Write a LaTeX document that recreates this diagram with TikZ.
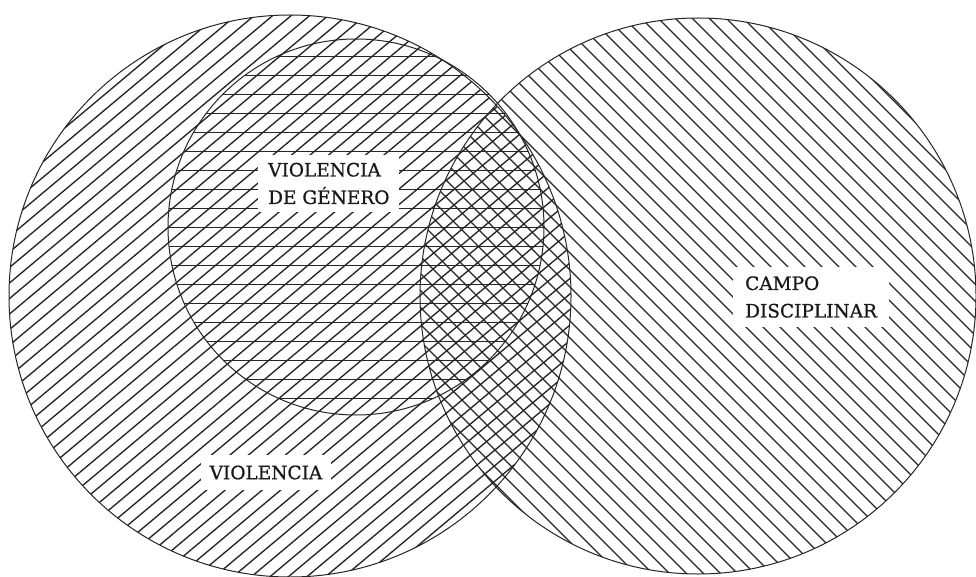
\documentclass[tikz,border=0pt]{standalone}
\usepackage{fontspec}
\setmainfont{DejaVu Serif}
\newfontfamily\lblfont{DejaVu Serif}[FakeBold=0.8]
\begin{document}
\begin{tikzpicture}[x=1pt,y=-1pt,
  hatchline/.style={line width=1.35pt,draw=black!85},
  rim/.style={line width=1pt,draw=black!85},
  lbl/.style={fill=white,inner ysep=2pt,align=left,text=black!90,
    font=\lblfont\fontsize{18.5}{27.5}\selectfont}]
\useasboundingbox (0,0) rectangle (976,577);
\fill[white] (0,0) rectangle (976,577);
\coordinate (Lc) at (290,296);
\coordinate (Rc) at (698,296);
\coordinate (Gc) at (356,227);
% left circle: "/" hatching
\begin{scope}
  \clip (Lc) circle (281pt);
  \foreach \k in {-27,...,27}
    \draw[hatchline] (290+\k*18.5-400,296+335.6) -- ++(800,-671.2);
\end{scope}
% right circle: "\" hatching
\begin{scope}
  \clip (Rc) circle (278pt);
  \foreach \k in {-26,...,26}
    \draw[hatchline] (698+\k*17-400,296-400) -- ++(800,800);
\end{scope}
% inner circle: horizontal hatching
\begin{scope}
  \clip (Gc) circle (188pt);
  \foreach \j in {0,...,19}
    \draw[hatchline] (150,56.5+\j*19) -- (560,56.5+\j*19);
\end{scope}
% outlines
\draw[rim] (Lc) circle (281pt);
\draw[rim] (Rc) circle (278pt);
\draw[rim] (Gc) circle (188pt);
% labels
\node[lbl,anchor=west,inner xsep=10pt,minimum height=57pt] (vg) at (258,183.5) {VIOLENCIA\\DE GÉNERO};
\node[lbl,anchor=west,inner xsep=12pt,minimum height=60pt] (cd) at (733,297) {CAMPO\\DISCIPLINAR};
\node[lbl,align=center,inner xsep=9pt,minimum height=35pt] (vi) at (266,472.5) {VIOLENCIA};
\end{tikzpicture}
\end{document}
